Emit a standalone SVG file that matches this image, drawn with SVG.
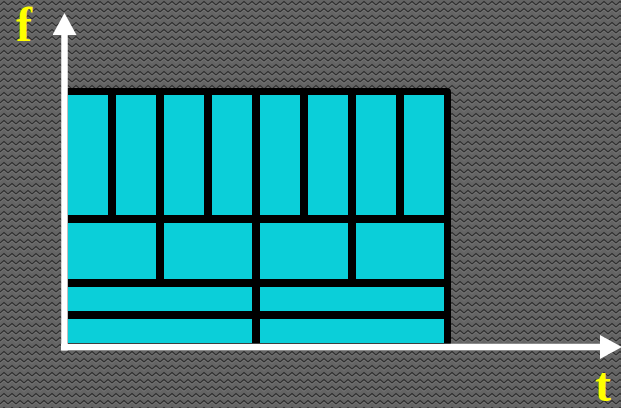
<svg xmlns="http://www.w3.org/2000/svg" width="621" height="408" viewBox="0 0 621 408">
  <defs>
    <pattern id="bg" width="8" height="7" patternUnits="userSpaceOnUse">
      <rect width="8" height="7" fill="#646464"/>
      <path d="M0,5 L4,1.5 L8,5" fill="none" stroke="#2c2c2c" stroke-width="1.3"/>
      <path d="M0,6.4 L4,2.9 L8,6.4" fill="none" stroke="#7c7c7c" stroke-width="0.7"/>
    </pattern>
    <marker id="arr" markerWidth="22" markerHeight="24" refX="0" refY="12" orient="auto" markerUnits="userSpaceOnUse">
      <path d="M0,0 L22,12 L0,24 Z" fill="#ffffff"/>
    </marker>
  </defs>
  <style>
    .cell { fill: #0bcfd9; }
    .lbl { font-family: "Liberation Serif", "Times New Roman", serif; font-weight: bold; font-size: 48px; fill: #ffff00; }
    .axis { stroke: #ffffff; stroke-width: 6.5; fill: none; }
  </style>
  <rect width="621" height="408" fill="url(#bg)"/>
  <g id="grid">
    <rect x="64" y="88" width="387" height="258" rx="4" fill="#000000"/>
    <g id="row1">
      <rect class="cell" x="68" y="95" width="40" height="120"/>
      <rect class="cell" x="116" y="95" width="40" height="120"/>
      <rect class="cell" x="164" y="95" width="40" height="120"/>
      <rect class="cell" x="212" y="95" width="40" height="120"/>
      <rect class="cell" x="260" y="95" width="40" height="120"/>
      <rect class="cell" x="308" y="95" width="40" height="120"/>
      <rect class="cell" x="356" y="95" width="40" height="120"/>
      <rect class="cell" x="404" y="95" width="40" height="120"/>
    </g>
    <g id="row2">
      <rect class="cell" x="68" y="223" width="88" height="56"/>
      <rect class="cell" x="164" y="223" width="88" height="56"/>
      <rect class="cell" x="260" y="223" width="88" height="56"/>
      <rect class="cell" x="356" y="223" width="88" height="56"/>
    </g>
    <g id="row3">
      <rect class="cell" x="68" y="287" width="184" height="24"/>
      <rect class="cell" x="260" y="287" width="184" height="24"/>
    </g>
    <g id="row4">
      <rect class="cell" x="68" y="319" width="184" height="24"/>
      <rect class="cell" x="260" y="319" width="184" height="24"/>
    </g>
  </g>
  <g id="connectors">
    <path class="axis" d="M64.5,350.5 L64.5,35" marker-end="url(#arr)"/>
    <path class="axis" d="M61,347 L600,347" marker-end="url(#arr)"/>
  </g>
  <g id="label-f"><text class="lbl" x="16" y="41">f</text></g>
  <g id="label-t"><text class="lbl" x="595" y="401">t</text></g>
</svg>
